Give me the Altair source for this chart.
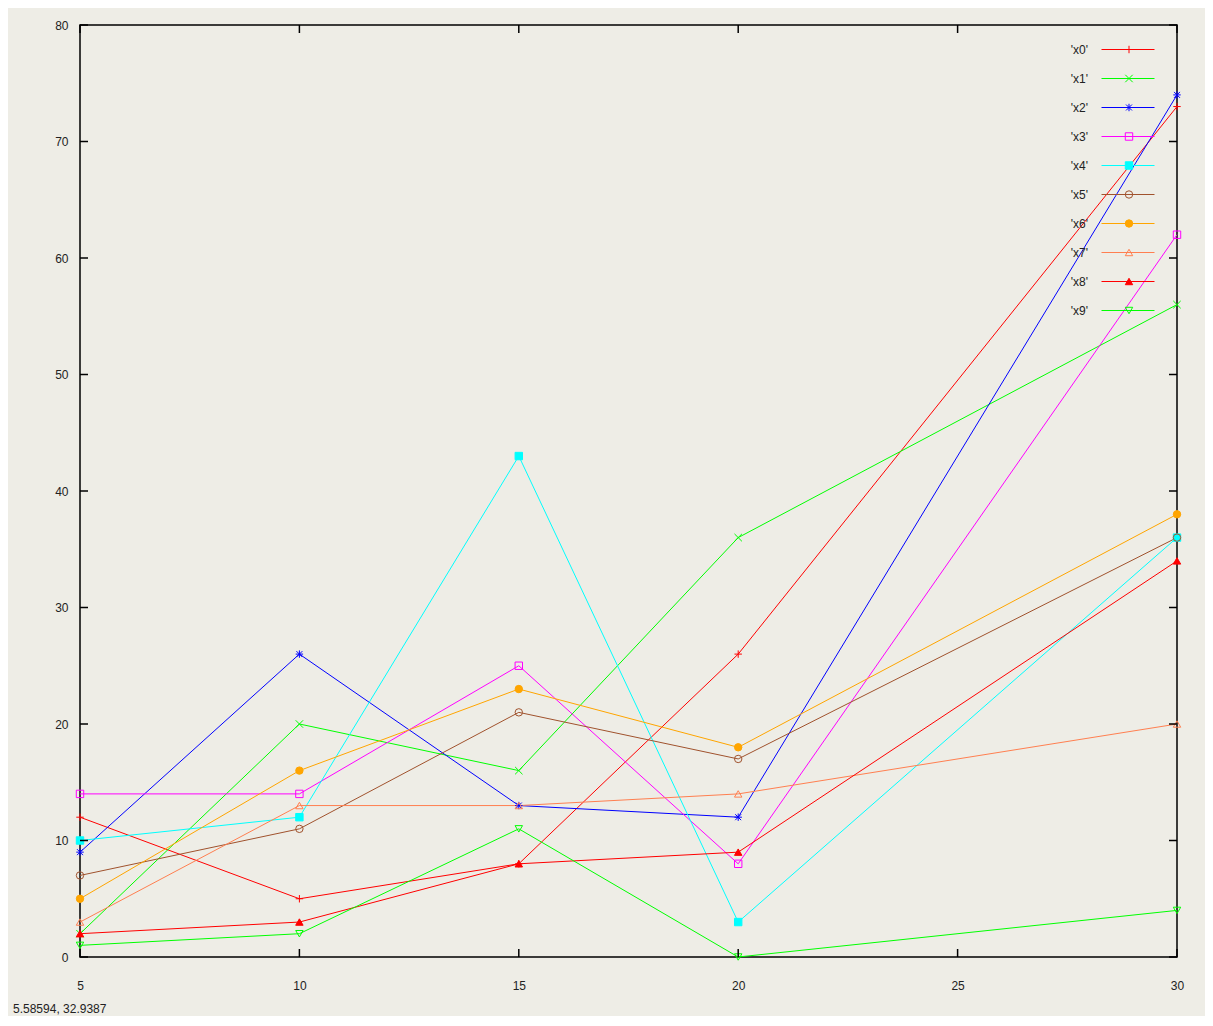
import altair as alt
import pandas as pd

# ---- data ----
x_values = [5, 10, 15, 20, 30]
series_names = ["'x0'", "'x1'", "'x2'", "'x3'", "'x4'", "'x5'", "'x6'", "'x7'", "'x8'", "'x9'"]
x0 = [12, 5, 8, 26, 73]
x1 = [2, 20, 16, 36, 56]
x2 = [9, 26, 13, 12, 74]
x3 = [14, 14, 25, 8, 62]
x4 = [10, 12, 43, 3, 36]
x5 = [7, 11, 21, 17, 36]
x6 = [5, 16, 23, 18, 38]
x7 = [3, 13, 13, 14, 20]
x8 = [2, 3, 8, 9, 34]
x9 = [1, 2, 11, 0, 4]
all_series = [x0, x1, x2, x3, x4, x5, x6, x7, x8, x9]

x_ticks = [5, 10, 15, 20, 25, 30]
y_ticks = [0, 10, 20, 30, 40, 50, 60, 70, 80]
status_text = ["5.58594,  32.9387"]

# ---- styles ----
colors = ["#ff0000", "#00ff00", "#0000ff", "#ff00ff", "#00ffff",
          "#a0522d", "#ffa500", "#ff7f50", "#ff0000", "#00ff00"]
fills = ["transparent", "transparent", "transparent", "transparent", "#00ffff",
         "transparent", "#ffa500", "transparent", "#ff0000", "transparent"]
shapes = [
    "M-1,0H1M0,-1V1",
    "M-1,-1L1,1M-1,1L1,-1",
    "M-1,0H1M0,-1V1M-0.8,-0.8L0.8,0.8M-0.8,0.8L0.8,-0.8",
    "square", "square", "circle", "circle",
    "triangle-up", "triangle-up", "triangle-down",
]

rows = []
for name, vals in zip(series_names, all_series):
    for xv, yv in zip(x_values, vals):
        rows.append({"x": xv, "y": yv, "series": name, "series2": name, "series3": name})
df = pd.DataFrame(rows)

W, H = 1097, 932
FONT = "Liberation Sans"
BG = "#eeede6"
TXT = "#222"

xscale = alt.Scale(domain=[5, 30], nice=False, zero=False)
yscale = alt.Scale(domain=[0, 80], nice=False)

xaxis = alt.Axis(values=x_ticks, ticks=False, tickSize=0, domain=False, grid=False,
                 labelPadding=23, labelFont=FONT, labelFontSize=12, labelColor=TXT,
                 title=None, labelFlush=False)
yaxis = alt.Axis(values=y_ticks, ticks=False, tickSize=0, domain=False, grid=False,
                 labelPadding=12, labelFont=FONT, labelFontSize=12, labelColor=TXT,
                 title=None)

LEG_Y = 10

# legend A: line samples
leg_a = alt.Legend(orient="none", legendX=1021, legendY=LEG_Y, title=None,
                   symbolType="stroke", symbolSize=2809, symbolStrokeWidth=1,
                   clipHeight=29, rowPadding=0, labelOpacity=0, labelFontSize=12)
# legend B: markers
leg_b = alt.Legend(orient="none", legendX=1043, legendY=LEG_Y, title=None,
                   symbolSize=55, symbolStrokeWidth=1, clipHeight=29, rowPadding=0,
                   labelOpacity=0, labelFontSize=12)
# legend C: labels only, right-aligned left of the samples
leg_c = alt.Legend(orient="none", legendX=996, legendY=LEG_Y, title=None,
                   symbolSize=1, symbolOpacity=0, clipHeight=29, rowPadding=0,
                   labelAlign="right", labelOffset=0,
                   labelFont=FONT, labelFontSize=12, labelColor=TXT)

lines = alt.Chart(df).mark_line(strokeWidth=1, clip=False).encode(
    x=alt.X("x:Q", scale=xscale, axis=xaxis),
    y=alt.Y("y:Q", scale=yscale, axis=yaxis),
    color=alt.Color("series:N", scale=alt.Scale(domain=series_names, range=colors), legend=leg_a),
    detail="series:N",
)

points = alt.Chart(df).mark_point(size=55, strokeWidth=1, opacity=1).encode(
    x=alt.X("x:Q", scale=xscale),
    y=alt.Y("y:Q", scale=yscale),
    shape=alt.Shape("series2:N", scale=alt.Scale(domain=series_names, range=shapes), legend=leg_b),
    stroke=alt.Stroke("series2:N", scale=alt.Scale(domain=series_names, range=colors), legend=leg_b),
    fill=alt.Fill("series2:N", scale=alt.Scale(domain=series_names, range=fills), legend=leg_b),
)

label_layer = alt.Chart(df).mark_point(size=1, opacity=0).encode(
    x=alt.X("x:Q", scale=xscale),
    y=alt.Y("y:Q", scale=yscale),
    shape=alt.Shape("series3:N", scale=alt.Scale(domain=series_names), legend=leg_c),
)

xt = pd.DataFrame({"t": x_ticks})
yt = pd.DataFrame({"t": y_ticks})
tick_color = "#000"
bottom_ticks = alt.Chart(xt).mark_rule(color=tick_color, strokeWidth=1.5).encode(
    x=alt.X("t:Q", scale=xscale), y=alt.value(H), y2=alt.value(H - 8))
top_ticks = alt.Chart(xt).mark_rule(color=tick_color, strokeWidth=1.5).encode(
    x=alt.X("t:Q", scale=xscale), y=alt.value(0), y2=alt.value(8))
left_ticks = alt.Chart(yt).mark_rule(color=tick_color, strokeWidth=1.5).encode(
    y=alt.Y("t:Q", scale=yscale), x=alt.value(0), x2=alt.value(8))
right_ticks = alt.Chart(yt).mark_rule(color=tick_color, strokeWidth=1.5).encode(
    y=alt.Y("t:Q", scale=yscale), x=alt.value(W - 8), x2=alt.value(W))

status = alt.Chart(pd.DataFrame({"s": status_text})).mark_text(
    align="left", baseline="alphabetic", font=FONT, fontSize=12, color=TXT
).encode(text="s:N", x=alt.value(-67), y=alt.value(988))

chart = alt.layer(lines, points, label_layer, bottom_ticks, top_ticks, left_ticks, right_ticks, status).resolve_scale(
    color="independent", stroke="independent", fill="independent", shape="independent"
).properties(
    width=W, height=H,
    autosize=alt.AutoSizeParams(type="none"),
    padding={"left": 72, "top": 17, "right": 28, "bottom": 59},
    background=BG,
).configure_view(stroke="#000", strokeWidth=1.5)

chart.save("out.html", embed_options={"renderer": "svg", "actions": False})
